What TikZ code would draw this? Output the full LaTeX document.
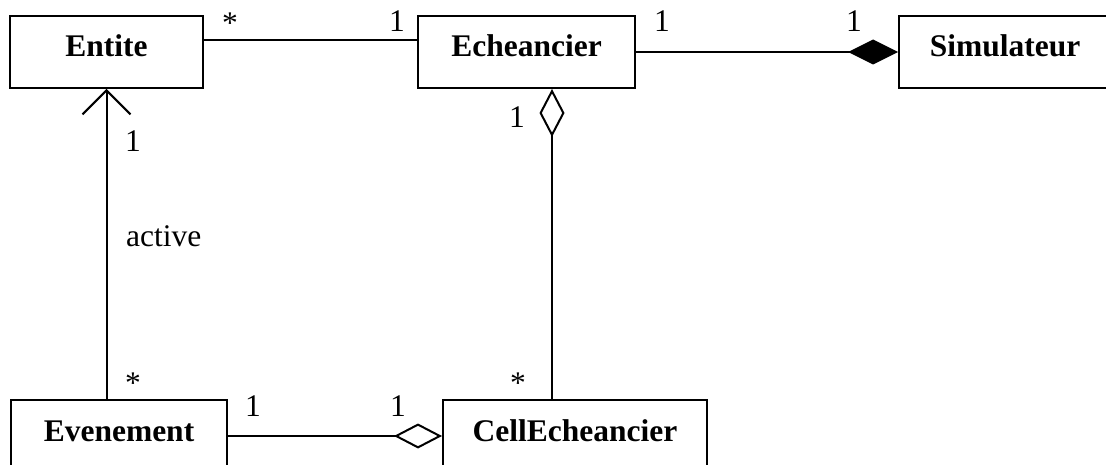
\documentclass[tikz,border=0pt]{standalone}
\usepackage{fontspec}
\setmainfont{Liberation Serif}
\usetikzlibrary{arrows.meta}
\begin{document}
\begin{tikzpicture}[x=1pt, y=-1pt,
  every node/.style={font=\fontsize{31.5}{36}\selectfont},
  classbox/.style={draw, line width=2pt, minimum height=72pt, inner sep=0pt,
    text height=22pt, text depth=12pt, font=\fontsize{31.5}{36}\selectfont\bfseries},
  link/.style={line width=2pt},
  mult/.style={anchor=base, inner sep=0pt},
  agg/.style={-{Diamond[open, length=48pt 0, width=25pt 0, line width=2pt]}},
  comp/.style={-{Diamond[length=50pt 0, width=25pt 0]}},
  nav/.style={-{Straight Barb[length=24pt 0, width=48pt 0, line width=2pt]}}
]
\useasboundingbox (0,0) rectangle (1106,465);
\clip (0,0) rectangle (1106,465);

% classes
\node[classbox, minimum width=193pt] (entite) at (106.5,52) {Entite};
\node[classbox, minimum width=217pt] (ech) at (526.5,52) {Echeancier};
\node[classbox, minimum width=212pt] (sim) at (1005,52) {Simulateur};
\node[classbox, minimum width=216pt] (evt) at (119,436) {Evenement};
\node[classbox, minimum width=264pt] (cell) at (575,436) {CellEcheancier};

% associations
\draw[link] ([yshift=12pt]entite.east) -- ([yshift=12pt]entite.east -| ech.west);
\draw[link, comp] (ech.east) -- (sim.west);
\coordinate (echfoot) at ([xshift=25.5pt]ech.south);
\draw[link, agg] (echfoot |- cell.north) -- (echfoot);
\coordinate (entfoot) at (entite.south);
\draw[link, nav] (entfoot |- evt.north) -- (entfoot);
\draw[link, agg] (evt.east) -- (cell.west);

% multiplicities and role
\node[mult] (m1) at (230,34) {*};
\node[mult] (m2) at (397,32) {1};
\node[mult] (m3) at (662,32) {1};
\node[mult] (m4) at (854,32) {1};
\node[mult] (m5) at (517,128) {1};
\node[mult] (m6) at (133,152) {1};
\node[mult, anchor=base west] (role) at (126,247) {active};
\node[mult] (m7) at (133,393) {*};
\node[mult] (m8) at (518,393) {*};
\node[mult] (m9) at (253,416) {1};
\node[mult] (m10) at (398,416) {1};
\end{tikzpicture}
\end{document}
